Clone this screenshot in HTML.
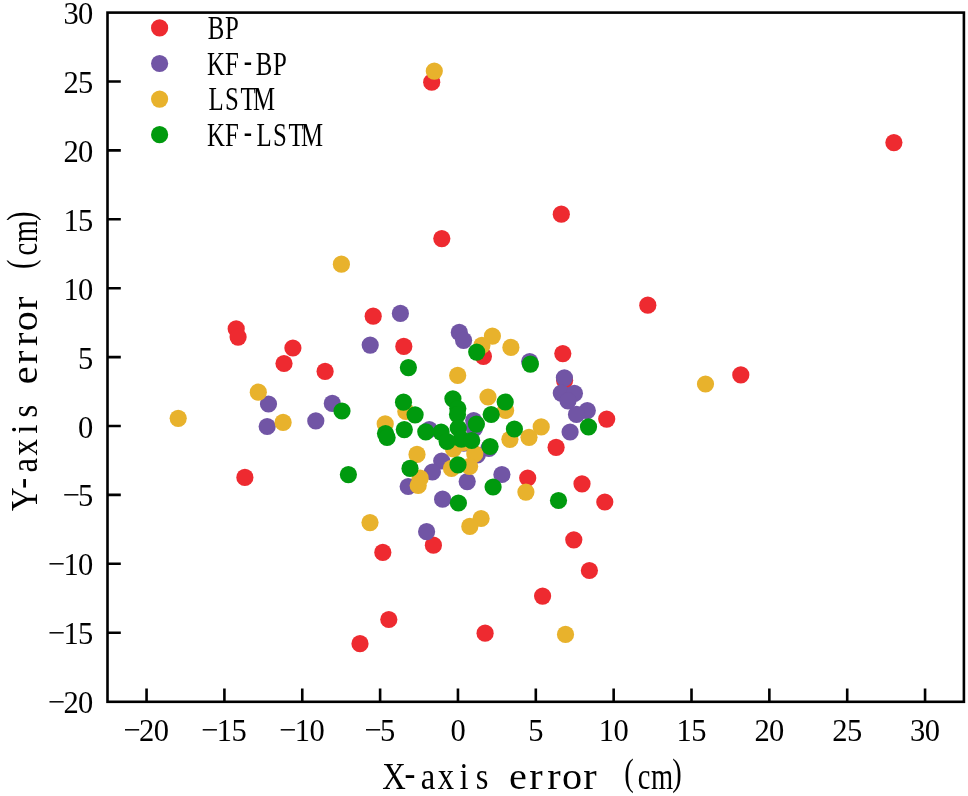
<!DOCTYPE html>
<html lang="en"><head><meta charset="utf-8"><title>Scatter plot of X-axis and Y-axis error</title>
<style>html,body{margin:0;padding:0;background:#fff}svg{display:block}.t{font-family:"Liberation Serif","DejaVu Serif",serif;fill:#000}.tk{font-size:30.5px}.ax{font-size:38px}.lg{font-size:34px}</style></head><body>
<svg width="968" height="796" viewBox="0 0 968 796">
<rect x="0" y="0" width="968" height="796" fill="#ffffff"/>
<g fill="#ee2a30"><circle cx="431.7" cy="82.2" r="8.6"/><circle cx="893.9" cy="142.6" r="8.6"/><circle cx="441.8" cy="238.6" r="8.6"/><circle cx="561.3" cy="214.2" r="8.6"/><circle cx="647.8" cy="305.2" r="8.6"/><circle cx="373.2" cy="316.2" r="8.6"/><circle cx="236.2" cy="328.8" r="8.6"/><circle cx="238.1" cy="337.1" r="8.6"/><circle cx="292.9" cy="348.0" r="8.6"/><circle cx="284.0" cy="363.5" r="8.6"/><circle cx="325.1" cy="371.4" r="8.6"/><circle cx="403.8" cy="346.4" r="8.6"/><circle cx="483.4" cy="356.3" r="8.6"/><circle cx="562.8" cy="353.6" r="8.6"/><circle cx="564.6" cy="380.3" r="8.6"/><circle cx="606.7" cy="419.1" r="8.6"/><circle cx="556.1" cy="447.3" r="8.6"/><circle cx="740.8" cy="374.9" r="8.6"/><circle cx="527.7" cy="478.0" r="8.6"/><circle cx="582.0" cy="483.8" r="8.6"/><circle cx="604.8" cy="502.0" r="8.6"/><circle cx="573.8" cy="539.8" r="8.6"/><circle cx="589.4" cy="570.5" r="8.6"/><circle cx="542.6" cy="596.1" r="8.6"/><circle cx="244.9" cy="477.4" r="8.6"/><circle cx="433.4" cy="545.2" r="8.6"/><circle cx="382.8" cy="552.4" r="8.6"/><circle cx="388.8" cy="619.5" r="8.6"/><circle cx="360.0" cy="643.7" r="8.6"/><circle cx="485.1" cy="633.2" r="8.6"/></g>
<g fill="#7155a5"><circle cx="400.4" cy="313.4" r="8.6"/><circle cx="370.2" cy="345.1" r="8.6"/><circle cx="459.3" cy="332.4" r="8.6"/><circle cx="463.6" cy="340.3" r="8.6"/><circle cx="529.7" cy="361.6" r="8.6"/><circle cx="268.5" cy="404.0" r="8.6"/><circle cx="267.2" cy="426.5" r="8.6"/><circle cx="315.8" cy="420.9" r="8.6"/><circle cx="332.3" cy="403.4" r="8.6"/><circle cx="429.3" cy="429.5" r="8.6"/><circle cx="473.7" cy="420.5" r="8.6"/><circle cx="474.3" cy="428.3" r="8.6"/><circle cx="463.9" cy="443.1" r="8.6"/><circle cx="488.9" cy="448.3" r="8.6"/><circle cx="477.3" cy="455.0" r="8.6"/><circle cx="441.7" cy="461.0" r="8.6"/><circle cx="432.4" cy="472.0" r="8.6"/><circle cx="467.2" cy="481.6" r="8.6"/><circle cx="501.9" cy="474.5" r="8.6"/><circle cx="442.6" cy="499.2" r="8.6"/><circle cx="408.2" cy="486.5" r="8.6"/><circle cx="426.6" cy="531.7" r="8.6"/><circle cx="564.4" cy="377.8" r="8.6"/><circle cx="561.3" cy="393.1" r="8.6"/><circle cx="574.4" cy="393.3" r="8.6"/><circle cx="568.0" cy="400.8" r="8.6"/><circle cx="587.3" cy="410.6" r="8.6"/><circle cx="576.5" cy="414.4" r="8.6"/><circle cx="570.1" cy="432.0" r="8.6"/></g>
<g fill="#e8b22c"><circle cx="434.3" cy="71.1" r="8.6"/><circle cx="341.4" cy="264.2" r="8.6"/><circle cx="492.4" cy="336.1" r="8.6"/><circle cx="481.9" cy="345.4" r="8.6"/><circle cx="510.9" cy="347.4" r="8.6"/><circle cx="457.7" cy="375.4" r="8.6"/><circle cx="258.3" cy="392.2" r="8.6"/><circle cx="178.2" cy="418.3" r="8.6"/><circle cx="283.1" cy="422.4" r="8.6"/><circle cx="405.8" cy="411.4" r="8.6"/><circle cx="385.2" cy="423.9" r="8.6"/><circle cx="417.0" cy="454.4" r="8.6"/><circle cx="488.0" cy="397.0" r="8.6"/><circle cx="505.6" cy="410.4" r="8.6"/><circle cx="509.9" cy="439.3" r="8.6"/><circle cx="453.4" cy="448.8" r="8.6"/><circle cx="462.9" cy="442.6" r="8.6"/><circle cx="474.8" cy="453.9" r="8.6"/><circle cx="469.6" cy="466.3" r="8.6"/><circle cx="451.5" cy="468.4" r="8.6"/><circle cx="420.1" cy="478.2" r="8.6"/><circle cx="418.2" cy="485.5" r="8.6"/><circle cx="370.0" cy="522.6" r="8.6"/><circle cx="541.2" cy="426.9" r="8.6"/><circle cx="529.0" cy="437.3" r="8.6"/><circle cx="525.9" cy="492.1" r="8.6"/><circle cx="705.5" cy="384.0" r="8.6"/><circle cx="481.1" cy="518.5" r="8.6"/><circle cx="469.8" cy="526.4" r="8.6"/><circle cx="565.5" cy="634.4" r="8.6"/></g>
<g fill="#009a0e"><circle cx="342.0" cy="411.0" r="8.6"/><circle cx="408.4" cy="367.6" r="8.6"/><circle cx="476.7" cy="352.1" r="8.6"/><circle cx="530.4" cy="364.1" r="8.6"/><circle cx="452.9" cy="398.8" r="8.6"/><circle cx="457.8" cy="408.6" r="8.6"/><circle cx="457.5" cy="414.6" r="8.6"/><circle cx="458.2" cy="428.0" r="8.6"/><circle cx="461.3" cy="439.2" r="8.6"/><circle cx="471.7" cy="440.5" r="8.6"/><circle cx="476.4" cy="424.1" r="8.6"/><circle cx="441.1" cy="432.1" r="8.6"/><circle cx="425.8" cy="431.8" r="8.6"/><circle cx="447.1" cy="441.5" r="8.6"/><circle cx="491.2" cy="414.5" r="8.6"/><circle cx="505.2" cy="402.0" r="8.6"/><circle cx="514.4" cy="429.0" r="8.6"/><circle cx="490.1" cy="446.5" r="8.6"/><circle cx="403.5" cy="402.2" r="8.6"/><circle cx="415.1" cy="414.8" r="8.6"/><circle cx="385.5" cy="433.6" r="8.6"/><circle cx="387.1" cy="437.5" r="8.6"/><circle cx="404.3" cy="429.6" r="8.6"/><circle cx="458.0" cy="464.8" r="8.6"/><circle cx="410.0" cy="468.4" r="8.6"/><circle cx="348.4" cy="474.6" r="8.6"/><circle cx="493.1" cy="487.0" r="8.6"/><circle cx="458.4" cy="503.0" r="8.6"/><circle cx="588.5" cy="426.8" r="8.6"/><circle cx="558.5" cy="500.5" r="8.6"/></g>
<path d="M146.56 701.80V688.50M224.41 701.80V688.50M302.26 701.80V688.50M380.11 701.80V688.50M457.96 701.80V688.50M535.81 701.80V688.50M613.66 701.80V688.50M691.51 701.80V688.50M769.36 701.80V688.50M847.21 701.80V688.50M925.06 701.80V688.50M107.50 632.70H120.80M107.50 563.80H120.80M107.50 494.90H120.80M107.50 426.00H120.80M107.50 357.10H120.80M107.50 288.20H120.80M107.50 219.30H120.80M107.50 150.40H120.80M107.50 81.50H120.80" stroke="#000" stroke-width="2.6" fill="none"/>
<rect x="107.50" y="12.60" width="856.40" height="689.20" fill="none" stroke="#000" stroke-width="2.6"/>
<text class="t tk" text-anchor="middle" x="131.9 146.6 161.3" y="739.9 741.4 741.4">−20</text>
<text class="t tk" text-anchor="middle" x="209.7 224.4 239.1" y="739.9 741.4 741.4">−15</text>
<text class="t tk" text-anchor="middle" x="287.6 302.3 317.0" y="739.9 741.4 741.4">−10</text>
<text class="t tk" text-anchor="middle" x="372.8 387.5" y="739.9 741.4">−5</text>
<text class="t tk" text-anchor="middle" x="458.0" y="741.4">0</text>
<text class="t tk" text-anchor="middle" x="535.8" y="741.4">5</text>
<text class="t tk" text-anchor="middle" x="606.3 621.0" y="741.4 741.4">10</text>
<text class="t tk" text-anchor="middle" x="684.2 698.9" y="741.4 741.4">15</text>
<text class="t tk" text-anchor="middle" x="762.0 776.7" y="741.4 741.4">20</text>
<text class="t tk" text-anchor="middle" x="839.9 854.6" y="741.4 741.4">25</text>
<text class="t tk" text-anchor="middle" x="917.7 932.4" y="741.4 741.4">30</text>
<text class="t tk" text-anchor="middle" x="56.3 71.0 85.7" y="711.6 713.1 713.1">−20</text>
<text class="t tk" text-anchor="middle" x="56.3 71.0 85.7" y="642.7 644.2 644.2">−15</text>
<text class="t tk" text-anchor="middle" x="56.3 71.0 85.7" y="573.8 575.3 575.3">−10</text>
<text class="t tk" text-anchor="middle" x="71.0 85.7" y="504.9 506.4">−5</text>
<text class="t tk" text-anchor="middle" x="85.6" y="437.5">0</text>
<text class="t tk" text-anchor="middle" x="85.6" y="368.6">5</text>
<text class="t tk" text-anchor="middle" x="71.0 85.7" y="299.7 299.7">10</text>
<text class="t tk" text-anchor="middle" x="71.0 85.7" y="230.8 230.8">15</text>
<text class="t tk" text-anchor="middle" x="71.0 85.7" y="161.9 161.9">20</text>
<text class="t tk" text-anchor="middle" x="71.0 85.7" y="93.0 93.0">25</text>
<text class="t tk" text-anchor="middle" x="71.0 85.7" y="24.1 24.1">30</text>
<g transform="translate(383,788.9)"><text class="t ax" text-anchor="middle" transform="translate(0.0,0) scale(0.86,1)" x="12.79 31.40 52.33 73.26 94.19 115.12" y="0.0 -2.5 0.0 0.0 0.0 0.0">X-axis</text><text class="t ax" text-anchor="middle" transform="translate(126.0,0) scale(1.06,1)" x="8.49 25.47 42.45 59.43 76.42" y="0.0 0.0 0.0 0.0 0.0">error</text><text class="t ax" text-anchor="middle" transform="translate(234.0,0) scale(0.75,1)" x="16.00 36.00 60.00 80.00" y="-3.5 0.0 0.0 -3.5">(cm)</text></g>
<g transform="translate(36.6,510.2) rotate(-90)"><text class="t ax" text-anchor="middle" transform="translate(0.0,0) scale(0.86,1)" x="12.79 31.40 52.33 73.26 94.19 115.12" y="0.0 -2.5 0.0 0.0 0.0 0.0">Y-axis</text><text class="t ax" text-anchor="middle" transform="translate(126.0,0) scale(1.06,1)" x="8.49 25.47 42.45 59.43 76.42" y="0.0 0.0 0.0 0.0 0.0">error</text><text class="t ax" text-anchor="middle" transform="translate(234.0,0) scale(0.75,1)" x="16.00 36.00 60.00 80.00" y="-3.5 0.0 0.0 -3.5">(cm)</text></g>
<circle cx="159.6" cy="27.9" r="8.6" fill="#ee2a30"/>
<text class="t lg" text-anchor="middle" transform="translate(208,39.0) scale(0.73,1)" x="10.96 32.88" y="0.0 0.0">BP</text>
<circle cx="159.6" cy="63.5" r="8.6" fill="#7155a5"/>
<text class="t lg" text-anchor="middle" transform="translate(208,74.6) scale(0.73,1)" x="10.96 32.88 54.79 76.71 98.63" y="0.0 0.0 -2.5 0.0 0.0">KF-BP</text>
<circle cx="159.6" cy="99.1" r="8.6" fill="#e8b22c"/>
<text class="t lg" text-anchor="middle" transform="translate(208,110.2) scale(0.73,1)" x="10.96 32.88 54.79 76.71" y="0.0 0.0 0.0 0.0">LSTM</text>
<circle cx="159.6" cy="134.7" r="8.6" fill="#009a0e"/>
<text class="t lg" text-anchor="middle" transform="translate(208,145.8) scale(0.73,1)" x="10.96 32.88 54.79 76.71 98.63 120.55 142.47" y="0.0 0.0 -2.5 0.0 0.0 0.0 0.0">KF-LSTM</text>
</svg></body></html>
